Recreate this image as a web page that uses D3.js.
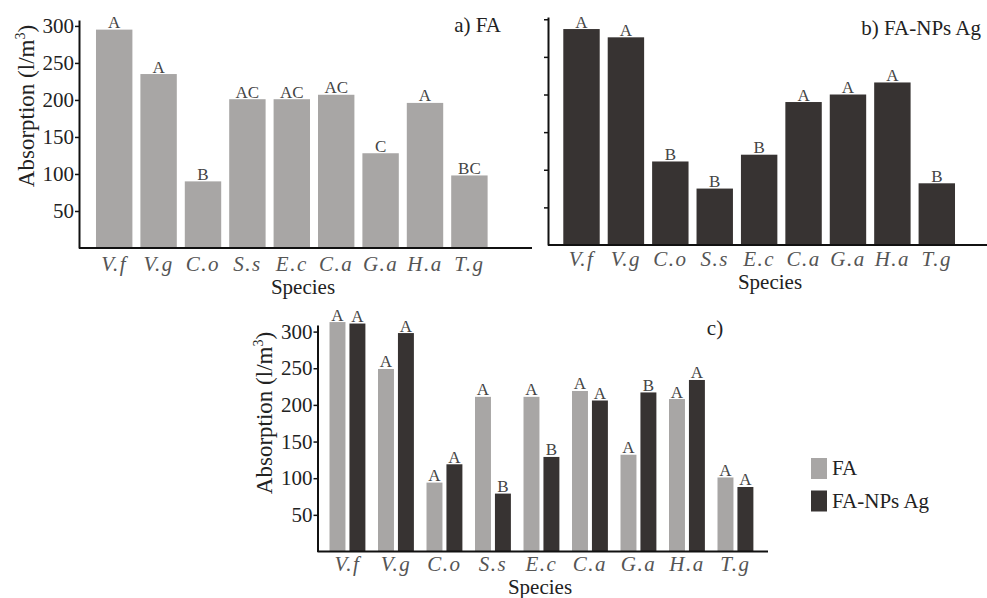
<!DOCTYPE html>
<html>
<head>
<meta charset="utf-8">
<script src="https://cdn.jsdelivr.net/npm/d3@7/dist/d3.min.js"></script>
<style>
  html, body { margin: 0; padding: 0; background: #fff; }
  svg { display: block; }
  svg text { font-family: "Liberation Serif", "DejaVu Serif", serif; }
</style>
</head>
<body>
<svg id="chart" width="987" height="598"></svg>
<script>
// Species codes along the x axis
const species = ["V.f", "V.g", "C.o", "S.s", "E.c", "C.a", "G.a", "H.a", "T.g"];

// a) FA absorption and significance letters
const faValues  = [295, 235, 90, 201, 201, 207, 128, 196, 98];
const faLetters = ["A", "A", "B", "AC", "AC", "AC", "C", "A", "BC"];

// b) FA-NPs Ag absorption and significance letters
const npValues  = [287, 276, 111, 75, 120, 190, 200, 216, 82];
const npLetters = ["A", "A", "B", "B", "B", "A", "A", "A", "B"];

// c) side-by-side comparison
const cmpFA        = [313, 249, 94, 211, 211, 219, 132, 208, 101];
const cmpNP        = [311, 298, 119, 79, 129, 206, 217, 234, 88];
const cmpFALetters = ["A", "A", "A", "A", "A", "A", "A", "A", "A"];
const cmpNPLetters = ["A", "A", "A", "B", "B", "A", "B", "A", "A"];

const seriesNames = ["FA", "FA-NPs Ag"];
const yTicks = [50, 100, 150, 200, 250, 300];

const LIGHT = "#a8a6a5";
const DARK = "#373332";
const SERIF = "Liberation Serif";

const svg = d3.select("#chart");

function yAxisLabel(g, x, y) {
  const t = g.append("text")
    .attr("transform", `translate(${x},${y}) rotate(-90)`)
    .attr("text-anchor", "middle")
    .attr("font-family", SERIF)
    .attr("font-size", 23)
    .attr("fill", "#222");
  t.append("tspan").text("Absorption (l/m");
  t.append("tspan").attr("font-size", 14).attr("dy", -9).text("3");
  t.append("tspan").attr("dy", 9).text(")");
}

function drawYAxis(g, y, x0, showLabels) {
  const ax = d3.axisLeft(y).tickValues(yTicks).tickSize(4).tickSizeOuter(0).tickPadding(1);
  if (!showLabels) ax.tickFormat("");
  const a = g.append("g").attr("transform", `translate(${x0},0)`).call(ax);
  a.attr("font-family", SERIF);
  a.select(".domain").attr("stroke", "#111").attr("stroke-width", 2);
  a.selectAll(".tick line").attr("stroke", "#111").attr("stroke-width", 1.5);
  a.selectAll(".tick text")
    .attr("font-family", SERIF)
    .attr("font-size", 21).attr("fill", "#222");
}

function drawXAxis(g, x, xStart, xEnd, base, labelBase, titleX, titleBase) {
  g.append("line")
    .attr("x1", xStart).attr("x2", xEnd)
    .attr("y1", base).attr("y2", base)
    .attr("stroke", "#111").attr("stroke-width", 2);
  g.append("g").selectAll("text").data(species).join("text")
    .attr("x", d => x(d) + x.bandwidth() / 2)
    .attr("y", labelBase)
    .attr("text-anchor", "middle")
    .attr("font-family", SERIF)
    .attr("font-style", "italic")
    .attr("font-size", 21)
    .attr("letter-spacing", 1.5)
    .attr("fill", "#555")
    .text(d => d);
  g.append("text")
    .attr("x", titleX).attr("y", titleBase)
    .attr("text-anchor", "middle")
    .attr("font-family", SERIF)
    .attr("font-size", 21).attr("fill", "#222")
    .text("Species");
}

// Single-series panel
function singlePanel(opts) {
  const g = svg.append("g");
  const y = d3.scaleLinear().domain([0, opts.yMax]).range([opts.base, opts.top]);
  const x = d3.scaleBand().domain(species).range([opts.bandStart, opts.bandEnd]).padding(0.18);

  g.selectAll("rect").data(opts.values).join("rect")
    .attr("x", (d, i) => x(species[i]))
    .attr("width", x.bandwidth())
    .attr("y", d => y(d))
    .attr("height", d => y(0) - y(d))
    .attr("fill", opts.color);

  g.append("g").selectAll("text").data(opts.values).join("text")
    .attr("x", (d, i) => x(species[i]) + x.bandwidth() / 2)
    .attr("y", d => y(d) - 1.5)
    .attr("text-anchor", "middle")
    .attr("font-family", SERIF)
    .attr("font-size", 17)
    .attr("fill", "#444")
    .text((d, i) => opts.letters[i]);

  drawYAxis(g, y, opts.axisX, opts.showLabels);
  drawXAxis(g, x, opts.axisX, opts.axisEnd, y(0), opts.labelBase, opts.titleX, opts.titleBase);

  g.append("text")
    .attr("x", opts.panelTitleX).attr("y", opts.panelTitleY)
    .attr("text-anchor", "end")
    .attr("font-family", SERIF)
    .attr("font-size", 21).attr("fill", "#222")
    .text(opts.panelTitle);
  return g;
}

const ga = singlePanel({
  values: faValues, letters: faLetters, color: LIGHT,
  yMax: 308, base: 248, top: 20,
  bandStart: 88, bandEnd: 495.6,
  axisX: 79, axisEnd: 532, showLabels: true,
  labelBase: 271, titleX: 303, titleBase: 294,
  panelTitle: "a) FA", panelTitleX: 501, panelTitleY: 32
});
yAxisLabel(ga, 34, 106);

singlePanel({
  values: npValues, letters: npLetters, color: DARK,
  yMax: 303, base: 245, top: 17,
  bandStart: 555.3, bandEnd: 963,
  axisX: 548, axisEnd: 987, showLabels: false,
  labelBase: 266, titleX: 770, titleBase: 289,
  panelTitle: "b) FA-NPs Ag", panelTitleX: 981, panelTitleY: 35
});

// c) grouped bars
(function () {
  const g = svg.append("g");
  const y = d3.scaleLinear().domain([0, 309]).range([551.5, 325]);
  const x0 = d3.scaleBand().domain(species).range([316.9, 766]).padding(0.26);
  const x1 = d3.scaleBand().domain(seriesNames).range([0, x0.bandwidth()]).paddingInner(0.2);
  const color = d3.scaleOrdinal().domain(seriesNames).range([LIGHT, DARK]);

  const rows = species.map((s, i) => ({
    s,
    items: [
      { k: seriesNames[0], v: cmpFA[i], l: cmpFALetters[i] },
      { k: seriesNames[1], v: cmpNP[i], l: cmpNPLetters[i] }
    ]
  }));

  const grp = g.selectAll("g.grp").data(rows).join("g")
    .attr("class", "grp")
    .attr("transform", d => `translate(${x0(d.s)},0)`);

  grp.selectAll("rect").data(d => d.items).join("rect")
    .attr("x", d => x1(d.k))
    .attr("width", x1.bandwidth())
    .attr("y", d => y(d.v))
    .attr("height", d => y(0) - y(d.v))
    .attr("fill", d => color(d.k));

  grp.selectAll("text").data(d => d.items).join("text")
    .attr("x", d => x1(d.k) + x1.bandwidth() / 2)
    .attr("y", d => y(d.v) - 1.5)
    .attr("text-anchor", "middle")
    .attr("font-family", SERIF)
    .attr("font-size", 17)
    .attr("fill", "#444")
    .text(d => d.l);

  drawYAxis(g, y, 317.5, true);
  drawXAxis(g, x0, 317.5, 768, y(0), 571, 540, 594);
  yAxisLabel(g, 272, 413);

  g.append("text")
    .attr("x", 715).attr("y", 335)
    .attr("text-anchor", "middle")
    .attr("font-family", SERIF)
    .attr("font-size", 21).attr("fill", "#222")
    .text("c)");

  // legend
  const lg = g.append("g").attr("transform", "translate(811,458)");
  const item = lg.selectAll("g").data(seriesNames).join("g")
    .attr("transform", (d, i) => `translate(0,${i * 32.5})`);
  item.append("rect")
    .attr("width", 16).attr("height", 21)
    .attr("fill", d => color(d));
  item.append("text")
    .attr("x", 21).attr("y", 17)
    .attr("font-family", SERIF)
    .attr("font-size", 21).attr("fill", "#222")
    .text(d => d);
})();
</script>
</body>
</html>
